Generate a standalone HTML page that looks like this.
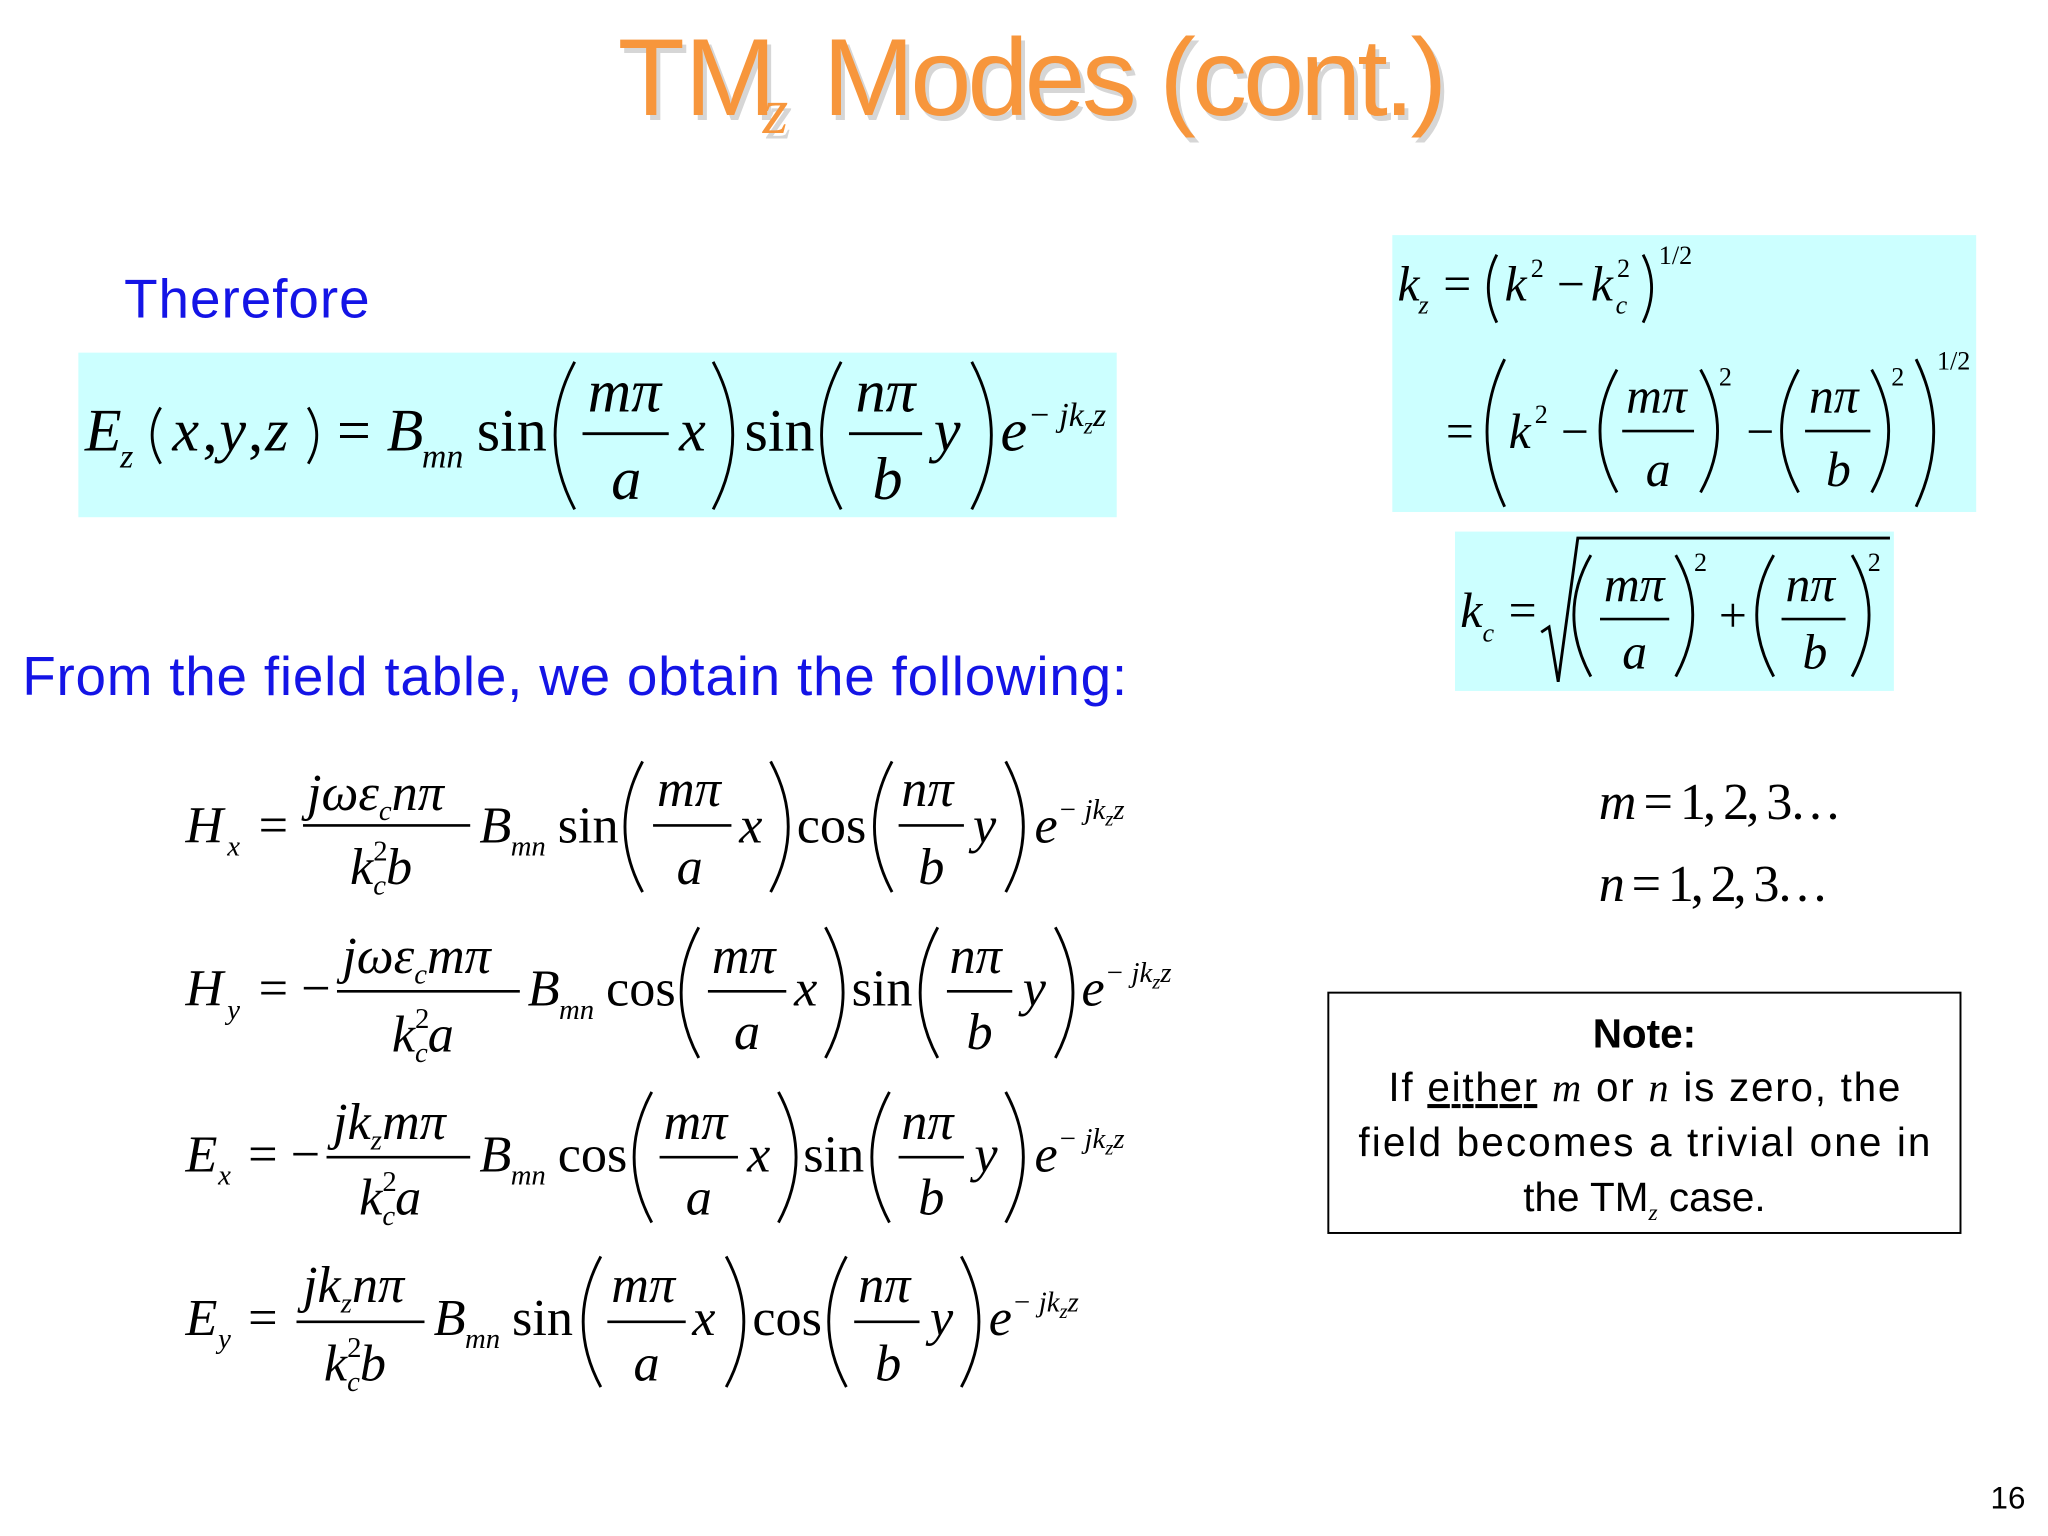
<!DOCTYPE html>
<html><head><meta charset="utf-8"><style>
html,body{margin:0;padding:0;background:#fff;}
svg{display:block}
.m{font-family:"Liberation Serif",serif;font-style:italic;}
.r{font-family:"Liberation Serif",serif;font-style:normal;}
.s{font-family:"Liberation Sans",sans-serif;}
.p{fill:none;stroke:#000;stroke-width:2.2}
</style></head><body>
<svg width="2048" height="1536" viewBox="0 0 1568 1176" xmlns="http://www.w3.org/2000/svg">
<rect width="1568" height="1176" fill="#fff"/>
<!-- title -->
<g class="s" font-size="84" fill="#d6d6d6" transform="translate(3,4)">
<text x="473" y="88">TM</text><text x="584" y="102" font-family="Liberation Serif" font-style="italic" font-size="50">z</text><text x="630" y="88" textLength="478">Modes (cont.)</text></g>
<g class="s" font-size="84" fill="#f7963c">
<text x="473" y="88">TM</text><text x="584" y="102" font-family="Liberation Serif" font-style="italic" font-size="50">z</text><text x="630" y="88" textLength="478">Modes (cont.)</text></g>

<text x="95" y="243" class="s" font-size="42" fill="#1414e6" textLength="188">Therefore</text>
<text x="17" y="532" class="s" font-size="42" fill="#1414e6" textLength="846">From the field table, we obtain the following:</text>

<!-- boxes -->
<rect x="60" y="270" width="795" height="126" fill="#ccffff"/>
<rect x="1066" y="180" width="447" height="212" fill="#ccffff"/>
<rect x="1114" y="407" width="336" height="122" fill="#ccffff"/>

<!-- Ez -->
<g font-size="46">
<text x="65" y="345" class="m">E</text><text x="92" y="358" class="m" font-size="26">z</text>
<path class="p" d="M123 312 Q110 333 123 355"/><text x="132" y="345" class="m">x</text><text x="155" y="345" class="r">,</text><text x="168" y="345" class="m">y</text><text x="190" y="345" class="r">,</text><text x="203" y="345" class="m">z</text><path class="p" d="M236 312 Q249 333 236 355"/>
<text x="258" y="345" class="r">=</text><text x="296" y="345" class="m">B</text><text x="323" y="358" class="m" font-size="26">mn</text>
<text x="365" y="345" class="r">sin</text>
<path class="p" d="M440 277 Q410 333 440 390"/>
<text x="450" y="315" class="m">mπ</text><line x1="446" y1="332" x2="512" y2="332" stroke="#000" stroke-width="2.2"/><text x="468" y="382" class="m">a</text>
<text x="520" y="345" class="m">x</text><path class="p" d="M546 277 Q576 333 546 390"/>
<text x="570" y="345" class="r">sin</text>
<path class="p" d="M644 277 Q614 333 644 390"/>
<text x="655" y="315" class="m">nπ</text><line x1="650" y1="332" x2="706" y2="332" stroke="#000" stroke-width="2.2"/><text x="668" y="382" class="m">b</text>
<text x="715" y="345" class="m">y</text><path class="p" d="M744 277 Q774 333 744 390"/>
<text x="766" y="345" class="m">e</text>
<text x="787" y="326" class="m" font-size="26">− jk<tspan font-size="18" dy="6">z</tspan><tspan dy="-6">z</tspan></text>
</g>

<!-- Hx -->
<g font-size="40">
<text x="142" y="645" class="m">H</text><text x="174" y="655" class="m" font-size="22">x</text><text x="198" y="645" class="r">=</text>
<text x="235" y="620" class="m">jωε<tspan font-size="22" dy="8">c</tspan><tspan dy="-8">nπ</tspan></text><line x1="232" y1="632" x2="360" y2="632" stroke="#000" stroke-width="2"/>
<text x="268" y="677" class="m">k<tspan font-size="22" dy="-18" class="r">2</tspan><tspan font-size="22" dx="-11" dy="26">c</tspan><tspan dy="-8">b</tspan></text>
<text x="367" y="645" class="m">B</text><text x="391" y="655" class="m" font-size="22">mn</text><text x="427" y="645" class="r">sin</text>
<path class="p" d="M492 583 Q465 633 492 683"/><text x="503" y="617" class="m">mπ</text><line x1="500" y1="632" x2="560" y2="632" stroke="#000" stroke-width="2"/><text x="518" y="677" class="m">a</text>
<text x="566" y="645" class="m">x</text><path class="p" d="M590 583 Q617 633 590 683"/>
<text x="610" y="645" class="r">cos</text>
<path class="p" d="M683 583 Q656 633 683 683"/><text x="690" y="617" class="m">nπ</text><line x1="688" y1="632" x2="738" y2="632" stroke="#000" stroke-width="2"/><text x="703" y="677" class="m">b</text>
<text x="745" y="645" class="m">y</text><path class="p" d="M770 583 Q797 633 770 683"/>
<text x="792" y="645" class="m">e</text><text x="810" y="627" class="m" font-size="22">− jk<tspan font-size="16" dy="5">z</tspan><tspan dy="-5">z</tspan></text>
</g>

<!-- Hy -->
<g font-size="40">
<text x="142" y="770" class="m">H</text><text x="174" y="780" class="m" font-size="22">y</text><text x="198" y="770" class="r">= −</text>
<text x="262" y="745" class="m">jωε<tspan font-size="22" dy="8">c</tspan><tspan dy="-8">mπ</tspan></text><line x1="258" y1="759" x2="398" y2="759" stroke="#000" stroke-width="2"/>
<text x="300" y="805" class="m">k<tspan font-size="22" dy="-18" class="r">2</tspan><tspan font-size="22" dx="-11" dy="26">c</tspan><tspan dy="-8">a</tspan></text>
<text x="404" y="770" class="m">B</text><text x="428" y="780" class="m" font-size="22">mn</text><text x="464" y="770" class="r">cos</text>
<path class="p" d="M535 710 Q508 760 535 810"/><text x="545" y="745" class="m">mπ</text><line x1="542" y1="759" x2="602" y2="759" stroke="#000" stroke-width="2"/><text x="562" y="803" class="m">a</text>
<text x="608" y="770" class="m">x</text><path class="p" d="M632 710 Q659 760 632 810"/>
<text x="652" y="770" class="r">sin</text>
<path class="p" d="M718 710 Q691 760 718 810"/><text x="727" y="745" class="m">nπ</text><line x1="725" y1="759" x2="775" y2="759" stroke="#000" stroke-width="2"/><text x="740" y="803" class="m">b</text>
<text x="783" y="770" class="m">y</text><path class="p" d="M808 710 Q835 760 808 810"/>
<text x="828" y="770" class="m">e</text><text x="846" y="752" class="m" font-size="22">− jk<tspan font-size="16" dy="5">z</tspan><tspan dy="-5">z</tspan></text>
</g>

<!-- Ex -->
<g font-size="40">
<text x="142" y="897" class="m">E</text><text x="167" y="907" class="m" font-size="22">x</text><text x="190" y="897" class="r">= −</text>
<text x="255" y="872" class="m">jk<tspan font-size="22" dy="8">z</tspan><tspan dy="-8">mπ</tspan></text><line x1="250" y1="886" x2="360" y2="886" stroke="#000" stroke-width="2"/>
<text x="275" y="930" class="m">k<tspan font-size="22" dy="-18" class="r">2</tspan><tspan font-size="22" dx="-11" dy="26">c</tspan><tspan dy="-8">a</tspan></text>
<text x="367" y="897" class="m">B</text><text x="391" y="907" class="m" font-size="22">mn</text><text x="427" y="897" class="r">cos</text>
<path class="p" d="M499 836 Q472 886 499 936"/><text x="508" y="872" class="m">mπ</text><line x1="505" y1="886" x2="565" y2="886" stroke="#000" stroke-width="2"/><text x="525" y="930" class="m">a</text>
<text x="572" y="897" class="m">x</text><path class="p" d="M596 836 Q623 886 596 936"/>
<text x="615" y="897" class="r">sin</text>
<path class="p" d="M681 836 Q654 886 681 936"/><text x="690" y="872" class="m">nπ</text><line x1="688" y1="886" x2="738" y2="886" stroke="#000" stroke-width="2"/><text x="703" y="930" class="m">b</text>
<text x="746" y="897" class="m">y</text><path class="p" d="M770 836 Q797 886 770 936"/>
<text x="792" y="897" class="m">e</text><text x="810" y="879" class="m" font-size="22">− jk<tspan font-size="16" dy="5">z</tspan><tspan dy="-5">z</tspan></text>
</g>

<!-- Ey -->
<g font-size="40">
<text x="142" y="1022" class="m">E</text><text x="167" y="1032" class="m" font-size="22">y</text><text x="190" y="1022" class="r">=</text>
<text x="232" y="997" class="m">jk<tspan font-size="22" dy="8">z</tspan><tspan dy="-8">nπ</tspan></text><line x1="227" y1="1012" x2="325" y2="1012" stroke="#000" stroke-width="2"/>
<text x="248" y="1057" class="m">k<tspan font-size="22" dy="-18" class="r">2</tspan><tspan font-size="22" dx="-11" dy="26">c</tspan><tspan dy="-8">b</tspan></text>
<text x="332" y="1022" class="m">B</text><text x="356" y="1032" class="m" font-size="22">mn</text><text x="392" y="1022" class="r">sin</text>
<path class="p" d="M460 962 Q433 1012 460 1062"/><text x="468" y="997" class="m">mπ</text><line x1="465" y1="1012" x2="525" y2="1012" stroke="#000" stroke-width="2"/><text x="485" y="1057" class="m">a</text>
<text x="530" y="1022" class="m">x</text><path class="p" d="M556 962 Q583 1012 556 1062"/>
<text x="576" y="1022" class="r">cos</text>
<path class="p" d="M648 962 Q621 1012 648 1062"/><text x="657" y="997" class="m">nπ</text><line x1="654" y1="1012" x2="704" y2="1012" stroke="#000" stroke-width="2"/><text x="670" y="1057" class="m">b</text>
<text x="712" y="1022" class="m">y</text><path class="p" d="M736 962 Q763 1012 736 1062"/>
<text x="757" y="1022" class="m">e</text><text x="775" y="1004" class="m" font-size="22">− jk<tspan font-size="16" dy="5">z</tspan><tspan dy="-5">z</tspan></text>
</g>

<!-- kz -->
<g font-size="38">
<text x="1070" y="230" class="m">k</text><text x="1086" y="240" class="m" font-size="20">z</text><text x="1105" y="230" class="r">=</text>
<path class="p" d="M1146 195 Q1133 220 1146 247"/><text x="1152" y="230" class="m">k</text><text x="1172" y="212" class="r" font-size="20">2</text>
<text x="1192" y="230" class="r">−</text><text x="1218" y="230" class="m">k</text><text x="1238" y="212" class="r" font-size="20">2</text><text x="1237" y="240" class="m" font-size="20">c</text>
<path class="p" d="M1258 195 Q1271 220 1258 247"/><text x="1270" y="202" class="r" font-size="20">1/2</text>
<text x="1107" y="343" class="r">=</text>
<path class="p" d="M1152 275 Q1125 330 1152 388"/>
<text x="1155" y="343" class="m">k</text><text x="1175" y="324" class="r" font-size="20">2</text><text x="1195" y="343" class="r">−</text>
<path class="p" d="M1238 283 Q1212 330 1238 377"/><text x="1245" y="316" class="m">mπ</text><line x1="1242" y1="330" x2="1297" y2="330" stroke="#000" stroke-width="2"/><text x="1260" y="372" class="m">a</text>
<path class="p" d="M1302 283 Q1328 330 1302 377"/><text x="1316" y="295" class="r" font-size="20">2</text>
<text x="1337" y="343" class="r">−</text>
<path class="p" d="M1377 283 Q1351 330 1377 377"/><text x="1385" y="316" class="m">nπ</text><line x1="1382" y1="330" x2="1432" y2="330" stroke="#000" stroke-width="2"/><text x="1398" y="372" class="m">b</text>
<path class="p" d="M1433 283 Q1459 330 1433 377"/><text x="1448" y="295" class="r" font-size="20">2</text>
<path class="p" d="M1467 275 Q1494 330 1467 388"/><text x="1483" y="283" class="r" font-size="20">1/2</text>
</g>

<!-- kc -->
<g font-size="38">
<text x="1118" y="480" class="m">k</text><text x="1135" y="491" class="m" font-size="20">c</text><text x="1155" y="480" class="r">=</text>
<path d="M1180 484 L1186 480 L1193 522 L1208 412 L1447 412" fill="none" stroke="#000" stroke-width="2.2"/>
<path class="p" d="M1218 425 Q1192 470 1218 518"/><text x="1228" y="460" class="m">mπ</text><line x1="1225" y1="474" x2="1278" y2="474" stroke="#000" stroke-width="2"/><text x="1242" y="512" class="m">a</text>
<path class="p" d="M1283 425 Q1309 470 1283 518"/><text x="1297" y="437" class="r" font-size="20">2</text>
<text x="1316" y="484" class="r">+</text>
<path class="p" d="M1358 425 Q1332 470 1358 518"/><text x="1367" y="460" class="m">nπ</text><line x1="1364" y1="474" x2="1413" y2="474" stroke="#000" stroke-width="2"/><text x="1380" y="512" class="m">b</text>
<path class="p" d="M1418 425 Q1444 470 1418 518"/><text x="1430" y="437" class="r" font-size="20">2</text>
</g>

<!-- m n -->
<g font-size="40" class="r">
<text x="1224" y="627" textLength="186"><tspan class="m">m</tspan> = 1, 2, 3…</text>
<text x="1224" y="690" textLength="176"><tspan class="m">n</tspan> = 1, 2, 3…</text>
</g>

<!-- note -->
<rect x="1017" y="760" width="484" height="184" fill="none" stroke="#000" stroke-width="1.5"/>
<g class="s" font-size="31" text-anchor="middle">
<text x="1259" y="802" font-weight="bold">Note:</text>
<text x="1259" y="843" textLength="392">If <tspan text-decoration="underline">either</tspan> <tspan font-family="Liberation Serif" font-style="italic">m</tspan> or <tspan font-family="Liberation Serif" font-style="italic">n</tspan> is zero, the</text>
<text x="1259" y="885" textLength="438">field becomes a trivial one in</text>
<text x="1259" y="927">the TM<tspan font-family="Liberation Serif" font-style="italic" font-size="18" dy="7">z</tspan><tspan dy="-7"> case.</tspan></text>
</g>

<text x="1524" y="1155" class="s" font-size="24">16</text>
</svg>
</body></html>
